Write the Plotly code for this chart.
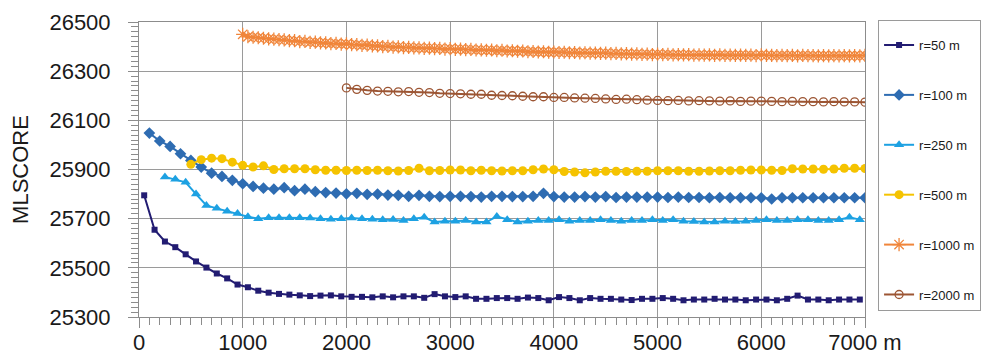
import plotly.graph_objects as go

# ---- data ----
x_r50 = list(range(50, 7000, 100))
y_r50 = [25795, 25655, 25607, 25584, 25555, 25526, 25501, 25477, 25457, 25432,
         25421, 25407, 25399, 25394, 25391, 25388, 25385, 25387, 25388, 25384,
         25382, 25382, 25380, 25384, 25380,
         25384, 25384, 25378, 25393, 25384, 25381, 25384, 25374, 25374, 25377,
         25377, 25374, 25379, 25377, 25368, 25381, 25377, 25368, 25377, 25374,
         25374, 25371, 25369, 25374, 25374, 25377, 25374, 25368,
         25371, 25371, 25374, 25371, 25371, 25368, 25371, 25371, 25368, 25374,
         25387, 25371, 25371, 25368, 25371, 25371, 25371]

x_r100 = list(range(100, 7001, 100))
y_r100 = [26048, 26016, 25994, 25964, 25937, 25910, 25885, 25872, 25856, 25842,
          25831, 25824, 25820, 25826, 25814, 25820, 25810, 25806,
          25804, 25801, 25803, 25799, 25800, 25796, 25795,
          25791, 25795, 25791, 25790, 25791, 25791, 25790, 25788, 25791, 25791,
          25790, 25790, 25791, 25803, 25790, 25788, 25788, 25790, 25788, 25790,
          25786, 25788, 25788, 25788, 25788, 25786, 25788,
          25786, 25786, 25785, 25786, 25785, 25785, 25785, 25785, 25780, 25785,
          25785, 25785, 25785, 25785, 25785, 25785, 25785, 25785]

x_r250 = list(range(250, 7000, 100))
y_r250 = [25870, 25860, 25848, 25800, 25754, 25742, 25730, 25721, 25708, 25700,
          25704, 25704, 25704, 25704, 25703, 25700, 25698, 25700, 25703, 25700,
          25698, 25696, 25697,
          25693, 25700, 25706, 25686, 25690, 25690, 25693, 25686, 25686, 25709,
          25696, 25686, 25690, 25693, 25693, 25696, 25690, 25693, 25693, 25696,
          25693, 25690, 25693, 25693, 25696, 25693, 25696, 25690,
          25688, 25686, 25686, 25690, 25688, 25690, 25693, 25696, 25693, 25693,
          25696, 25696, 25693, 25693, 25696, 25706, 25696]

x_r500 = list(range(500, 7001, 100))
y_r500 = [25921, 25940, 25946, 25944, 25930, 25917, 25910, 25915, 25900, 25903,
          25903, 25903, 25899, 25897, 25897, 25896, 25897, 25896, 25897, 25895,
          25894, 25896, 25905, 25895, 25896, 25898, 25898, 25895, 25897, 25895,
          25894, 25895, 25895, 25899, 25902, 25899, 25892, 25890, 25887, 25890,
          25893, 25893, 25892, 25893, 25893, 25895, 25895, 25895,
          25893, 25893, 25894, 25895, 25895, 25897, 25898, 25898, 25897, 25896,
          25903, 25902, 25902, 25901, 25902, 25905, 25905, 25904]

x_r1000 = list(range(1000, 7001, 50))
y_r1000 = [26450, 26440, 26438, 26436, 26434, 26431, 26430, 26428, 26427, 26424,
           26424, 26420, 26421, 26417, 26418, 26415, 26415, 26412, 26413, 26410,
           26411, 26408, 26408, 26405, 26406, 26403, 26403, 26400, 26401, 26398,
           26399, 26396, 26397, 26395, 26395, 26393, 26394, 26392, 26393, 26390,
           26392, 26389, 26390, 26388, 26389, 26386, 26387, 26385, 26386, 26383,
           26385, 26382, 26383, 26381, 26382, 26379, 26380, 26378, 26379, 26377,
           26378, 26376, 26377, 26375, 26376, 26374, 26375, 26373, 26374, 26372,
           26373, 26371, 26372, 26370, 26371, 26369, 26370, 26368, 26369, 26367,
           26369, 26367, 26368, 26366, 26367, 26366, 26367, 26365, 26366, 26365,
           26366, 26364, 26366, 26364, 26365, 26364, 26365, 26364, 26365, 26363,
           26366, 26364, 26364, 26363, 26364, 26363, 26364, 26362, 26364, 26363,
           26363, 26362, 26363, 26362, 26363, 26362, 26363, 26362, 26363, 26362,
           26364]

x_r2000 = list(range(2000, 7001, 100))
y_r2000 = [26232, 26226, 26222, 26219, 26218, 26216, 26217, 26214, 26213, 26210,
           26209, 26208, 26206, 26206, 26202, 26201, 26200, 26198, 26196, 26196,
           26193, 26193, 26191, 26190, 26189, 26187, 26185, 26186, 26184, 26182,
           26181, 26180, 26181, 26179, 26180, 26179, 26178, 26179, 26177, 26178,
           26178, 26177, 26176, 26177, 26176, 26176, 26175, 26176, 26175, 26175,
           26174]

series_names = ["r=50 m", "r=100 m", "r=250 m", "r=500 m", "r=1000 m", "r=2000 m"]
x_ticks = [0, 1000, 2000, 3000, 4000, 5000, 6000, 7000]
x_tick_labels = ["0", "1000", "2000", "3000", "4000", "5000", "6000", "7000 m"]
y_ticks = [25300, 25500, 25700, 25900, 26100, 26300, 26500]
y_tick_labels = ["25300", "25500", "25700", "25900", "26100", "26300", "26500"]

# ---- styles ----
styles = [
    dict(color="#221c72", symbol="square", size=6),
    dict(color="#2e6cb2", symbol="diamond", size=9),
    dict(color="#1da1e2", symbol="triangle-up", size=9),
    dict(color="#f5c300", symbol="circle", size=9),
    dict(color="#f0853a", symbol="asterisk-open", size=11),
    dict(color="#9c5533", symbol="circle-open", size=8),
]

xs = [x_r50, x_r100, x_r250, x_r500, x_r1000, x_r2000]
ys = [y_r50, y_r100, y_r250, y_r500, y_r1000, y_r2000]

FONT = "Liberation Sans, Arial"

fig = go.Figure()
for i, (name, x, y, st) in enumerate(zip(series_names, xs, ys, styles)):
    assert len(x) == len(y), name
    mk = dict(symbol=st["symbol"], size=st["size"], color=st["color"])
    if "open" in st["symbol"]:
        mk["line"] = dict(color=st["color"], width=1.3)
    fig.add_trace(go.Scatter(
        x=x, y=y, name=name, mode="lines+markers",
        line=dict(color=st["color"], width=2),
        marker=mk, legendgroup=f"g{i}",
    ))

axis_common = dict(
    showline=True, linecolor="#8c8c8c", linewidth=1, mirror=True,
    showgrid=True, gridcolor="#9a9a9a", gridwidth=1,
    ticks="outside", tickcolor="#8c8c8c", ticklen=10, tickwidth=1,
    zeroline=False,
    tickfont=dict(family=FONT, size=22, color="#1a1a1a"),
)

fig.update_xaxes(
    range=[0, 7000], tickvals=x_ticks, ticktext=x_tick_labels,
    minor=dict(dtick=100, ticks="outside", ticklen=7, tickcolor="#8c8c8c", showgrid=False),
    ticklabelstandoff=-4,
    **axis_common,
)
fig.update_yaxes(
    range=[25300, 26500], tickvals=y_ticks, ticktext=y_tick_labels,
    minor=dict(dtick=20, ticks="outside", ticklen=7, tickcolor="#8c8c8c", showgrid=False),
    ticklabelstandoff=13,
    title=dict(text="MLSCORE", font=dict(family=FONT, size=22, color="#1a1a1a"), standoff=18),
    **axis_common,
)

# the page body adds an 8px offset, so the figure is sized to fit the window
fig.update_layout(
    width=982, height=354,
    margin=dict(l=131, r=125, t=14, b=45, autoexpand=False),
    paper_bgcolor="white", plot_bgcolor="white",
    showlegend=True,
    legend=dict(
        x=1.018, xanchor="left", y=1.007, yanchor="top",
        bordercolor="#9a9a9a", borderwidth=1, bgcolor="white",
        font=dict(family=FONT, size=13, color="#1a1a1a"),
        title=dict(text=" ", font=dict(size=7)),
        itemwidth=30, tracegroupgap=30, traceorder="grouped",
        maxheight=1.0,
    ),
)

fig.write_html("out.html")
